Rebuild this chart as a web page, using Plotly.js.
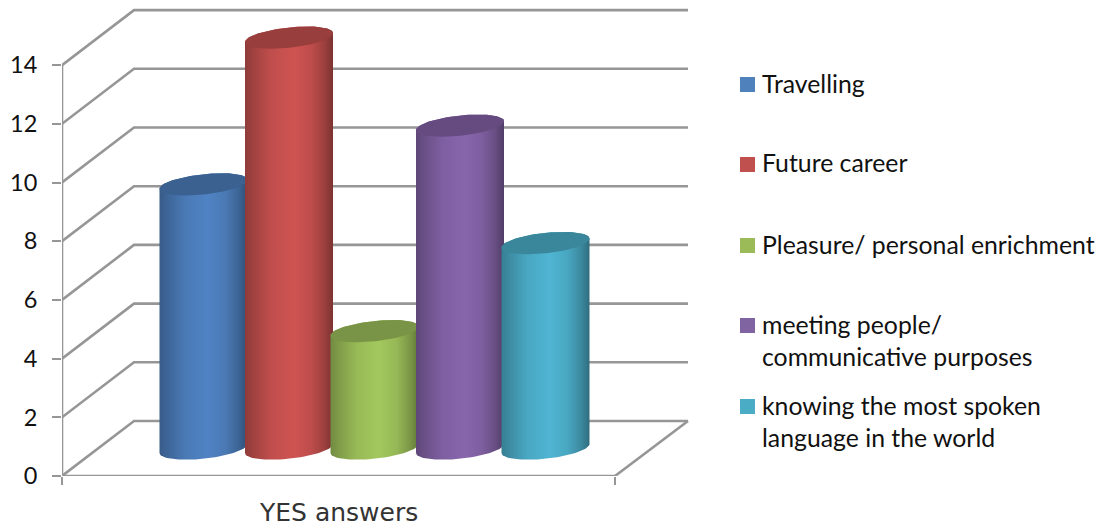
<!DOCTYPE html>
<html>
<head>
<meta charset="utf-8">
<script src="https://cdn.plot.ly/plotly-3.0.1.min.js"></script>
<style>html,body{margin:0;padding:0;background:#fff}#chart{width:1103px;height:527px}</style>
</head>
<body>
<div id="chart"></div>
<script>
// Survey counts: one cylinder per reason, all under a single category.
const categoryLabel = 'YES answers';
const seriesNames = [
  'Travelling',
  'Future career',
  'Pleasure/ personal enrichment',
  'meeting people/<br>communicative purposes',
  'knowing the most spoken<br>language in the world'
];
const seriesValues = [9, 14, 4, 11, 7];
const legendColors = ['#4F81BD', '#C0504D', '#9BBB59', '#8064A2', '#4BACC6'];
const bodyColors = ['#5083C4', '#CE5452', '#A3C85E', '#8866AD', '#4FB5D2'];
const valueTicks = [0, 2, 4, 6, 8, 10, 12, 14];
const legendRows = [84, 164, 245, 325, 406];

// The plot area reaches past the front plane so the back wall fits inside it.
const L = 62, T = 2, B = 51, W = 1103, H = 527;
const frontW = 553, unitPx = 29.35;
const R = W - L - 640;
const plotW = W - L - R, plotH = H - T - B;
const xPerPx = 1 / frontW, yPerPx = 1 / unitPx;
const xRange = [-0.5, -0.5 + plotW * xPerPx];
const yRange = [0, plotH * yPerPx];
const axisTop = Math.max(...valueTicks);

// Depth of the box: the back wall sits up and to the right of the front plane.
const depthX = 72 * xPerPx, depthY = 55 * yPerPx;
const wallEnd = 0.5 + depthX + 1 * xPerPx;

const gridX = [], gridY = [];
valueTicks.forEach(v => {
  gridX.push(-0.5, -0.5 + depthX, wallEnd, null);
  gridY.push(v, v + depthY, v + depthY, null);
});
gridX.push(wallEnd, 0.5, null, -0.5, 0.5, null, -0.5, -0.5);
gridY.push(depthY, 0, null, 0, 0, null, 0, axisTop);

const traces = [{
  x: gridX, y: gridY, mode: 'lines', hoverinfo: 'skip',
  line: {color: '#969696', width: 2.6}, showlegend: false
}];

function shade(hex, f) {
  const n = parseInt(hex.slice(1), 16);
  const c = [n >> 16, (n >> 8) & 255, n & 255].map(v => Math.min(255, Math.round(v * f)));
  return 'rgb(' + c.join(',') + ')';
}

// Cylinder slots run along the mid-depth of the floor.
const slot = 85.5 * xPerPx, rx = 44 * xPerPx, ry = 10.2 * yPerPx, tilt = 4.5 * yPerPx;
const midX = depthX / 2, midY = depthY / 2;
const steps = 48;

function ringPoint(cx, cy, t) {
  return [cx + rx * Math.cos(t), cy + ry * Math.sin(t) + tilt * Math.cos(t)];
}

seriesValues.forEach((v, i) => {
  const cx = midX + (i - 2) * slot;
  const top = midY + v;
  const xs = [], ys = [];
  // Lower half of the base, then back across the far half of the top ring.
  for (let k = 0; k <= steps; k++) {
    const p = ringPoint(cx, midY, Math.PI + Math.PI * k / steps);
    xs.push(p[0]); ys.push(p[1]);
  }
  for (let k = 0; k <= steps; k++) {
    const p = ringPoint(cx, top, Math.PI * k / steps);
    xs.push(p[0]); ys.push(p[1]);
  }
  const base = bodyColors[i];
  traces.push({
    x: xs, y: ys, mode: 'lines', fill: 'toself', hoverinfo: 'skip',
    name: seriesNames[i], showlegend: false, line: {width: 0, color: 'rgba(0,0,0,0)'},
    fillgradient: {type: 'horizontal', colorscale: [
      [0, shade(base, 0.70)], [0.1, shade(base, 0.78)], [0.3, shade(base, 0.93)],
      [0.55, shade(base, 1.0)], [0.75, shade(base, 0.92)], [0.9, shade(base, 0.76)],
      [1, shade(base, 0.6)]
    ]}
  });
  // Flat cap on top of the body.
  const cxs = [], cys = [];
  for (let k = 0; k <= 2 * steps; k++) {
    const p = ringPoint(cx, top, Math.PI * k / steps);
    cxs.push(p[0]); cys.push(p[1]);
  }
  traces.push({
    x: cxs, y: cys, mode: 'lines', fill: 'toself', hoverinfo: 'skip',
    fillcolor: shade(base, 0.74), line: {width: 0, color: 'rgba(0,0,0,0)'}, showlegend: false
  });
});

const pxX = px => (px - L) / plotW;
const pxY = py => (H - B - py) / plotH;

const shapes = legendRows.map((row, i) => ({
  type: 'rect', xref: 'paper', yref: 'paper', layer: 'above',
  x0: pxX(740), x1: pxX(755), y0: pxY(row - 7), y1: pxY(row + 8),
  fillcolor: legendColors[i], line: {width: 0}
}));

const annotations = seriesNames.map((name, i) => {
  const multi = name.includes('<br>');
  return {
    text: name, xref: 'paper', yref: 'paper', showarrow: false, align: 'left',
    x: pxX(760), xanchor: 'left', y: pxY(legendRows[i] - 1), yanchor: multi ? 'top' : 'middle',
    yshift: multi ? 16 : 0,
    font: {family: 'Lato, sans-serif', size: 24.8, color: '#111'}
  };
});
annotations.push({
  text: categoryLabel, xref: 'x', yref: 'paper', x: 0, y: pxY(512), showarrow: false,
  xanchor: 'center', yanchor: 'middle',
  font: {family: 'DejaVu Sans, sans-serif', size: 25, color: '#333'}
});

const layout = {
  width: W, height: H, paper_bgcolor: '#fff', plot_bgcolor: 'rgba(0,0,0,0)',
  margin: {l: L, r: R, t: T, b: B, pad: 0}, showlegend: false,
  xaxis: {
    range: xRange, tickmode: 'array', tickvals: [-0.5, 0.5], ticktext: ['', ''],
    ticks: 'outside', ticklen: 8, tickwidth: 2, tickcolor: '#969696',
    showline: false, showgrid: false, zeroline: false
  },
  yaxis: {
    range: yRange, tickmode: 'array', tickvals: valueTicks,
    ticks: 'outside', ticklen: 9, tickwidth: 2, tickcolor: '#969696',
    showline: false, showgrid: false, zeroline: false,
    ticklabelstandoff: 10,
    tickfont: {family: 'Lato, sans-serif', size: 23.5, color: '#111'}
  },
  shapes, annotations
};

Plotly.newPlot('chart', traces, layout, {staticPlot: true, displayModeBar: false});
</script>
</body>
</html>
